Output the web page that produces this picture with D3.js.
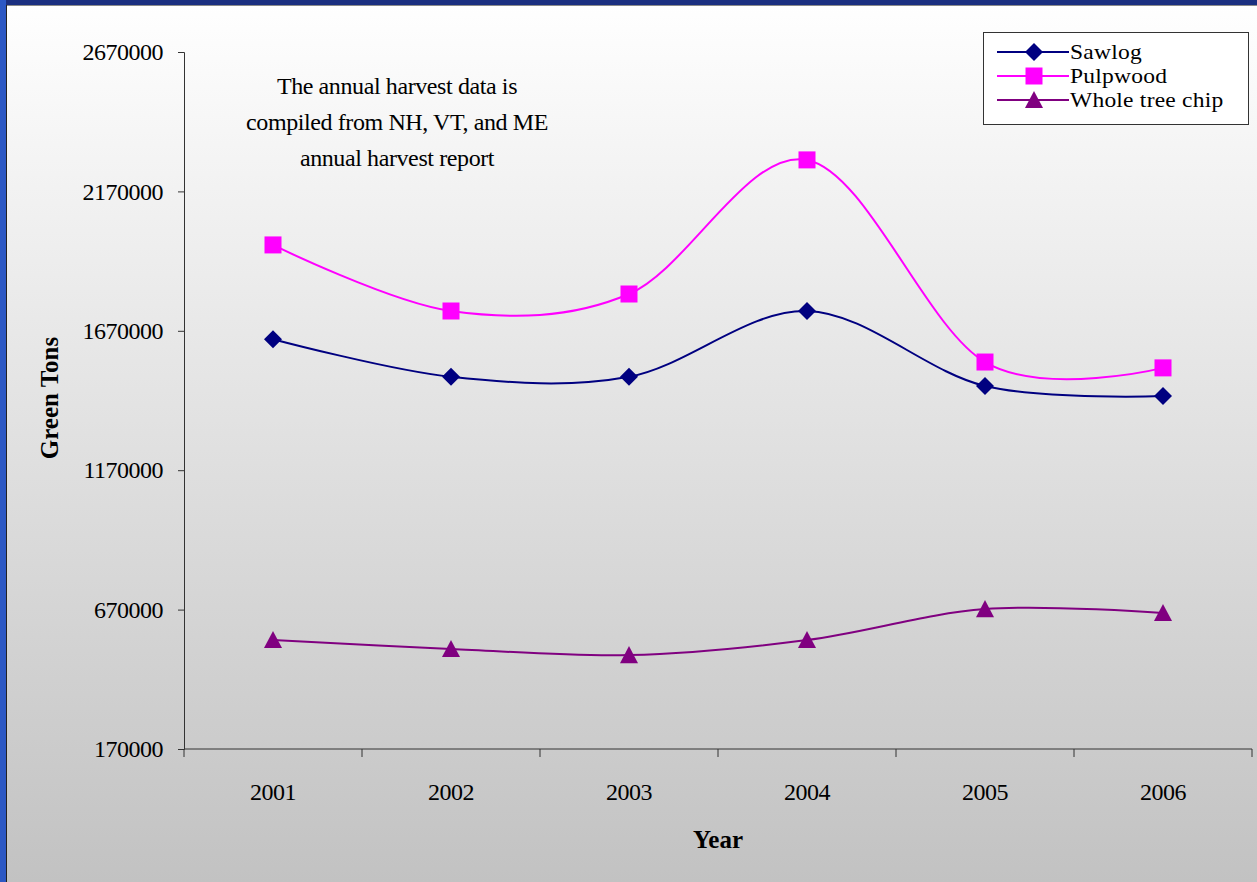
<!DOCTYPE html>
<html>
<head>
<meta charset="utf-8">
<script src="https://cdn.jsdelivr.net/npm/d3@7/dist/d3.min.js"></script>
<style>
  html, body { margin: 0; padding: 0; background: #fff; }
  svg { display: block; }
  text { font-family: "Liberation Serif", "Times New Roman", serif; fill: #000; }
</style>
</head>
<body>
<svg id="chart" width="1257" height="882"></svg>
<script>
// Annual harvest, green tons, 2001-2006
const years = ["2001", "2002", "2003", "2004", "2005", "2006"];
const sawlog = [1640000, 1505000, 1505000, 1741000, 1472000, 1436000];
const pulpwood = [1978000, 1741000, 1802000, 2283000, 1558000, 1537000];
const wholeTreeChip = [561000, 529000, 507000, 561000, 672000, 658000];
const yTicks = [170000, 670000, 1170000, 1670000, 2170000, 2670000];
const seriesNames = ["Sawlog", "Pulpwood", "Whole tree chip"];
const seriesColors = ["#000080", "#ff00ff", "#800080"];
const noteLines = ["The annual harvest data is", "compiled from NH, VT, and ME", "annual harvest report"];

const W = 1257, H = 882;
const svg = d3.select("#chart");

// background gradient and frame
const defs = svg.append("defs");
const bg = defs.append("linearGradient").attr("id", "bg").attr("x1", 0).attr("y1", 0).attr("x2", 0).attr("y2", 1);
bg.append("stop").attr("offset", "0%").attr("stop-color", "#ffffff");
bg.append("stop").attr("offset", "100%").attr("stop-color", "#c2c2c2");
svg.append("rect").attr("width", W).attr("height", H).attr("fill", "url(#bg)");
svg.append("rect").attr("x", 0).attr("y", 0).attr("width", W).attr("height", 5).attr("fill", "#1b2f80");
svg.append("rect").attr("x", 0).attr("y", 0).attr("width", 6).attr("height", H).attr("fill", "#2c58c4");
svg.append("line").attr("x1", 6).attr("x2", W).attr("y1", 5.5).attr("y2", 5.5).attr("stroke", "#8a8a8a").attr("stroke-width", 1);
svg.append("line").attr("x1", 6.5).attr("x2", 6.5).attr("y1", 5).attr("y2", H).attr("stroke", "#222").attr("stroke-width", 1);

const plot = { left: 184, right: 1252, top: 52, bottom: 749 };

const x = d3.scaleBand().domain(years).range([plot.left, plot.right]);
const y = d3.scaleLinear().domain([170000, 2670000]).range([plot.bottom, plot.top]);

// y axis
const yAxis = svg.append("g")
  .attr("transform", `translate(${plot.left},0)`)
  .call(d3.axisLeft(y).tickValues(yTicks).tickFormat(d3.format("d")).tickSize(6).tickPadding(15));
yAxis.select(".domain").attr("stroke", "#333");
yAxis.selectAll(".tick line").attr("stroke", "#333");
yAxis.selectAll(".tick text").style("font-size", "24px").style("letter-spacing", "-0.5px").attr("fill", "#000");

// x axis: ticks at category boundaries
const xg = svg.append("g").attr("transform", `translate(0,${plot.bottom})`);
xg.append("line").attr("x1", plot.left).attr("x2", plot.right).attr("stroke", "#333");
const bounds = years.map(d => x(d)).concat([x(years[years.length - 1]) + x.bandwidth()]);
xg.selectAll("line.tk").data(bounds).join("line").attr("class", "tk")
  .attr("x1", d => d).attr("x2", d => d).attr("y1", 0).attr("y2", 8).attr("stroke", "#333");
xg.selectAll("text").data(years).join("text")
  .attr("x", d => x(d) + x.bandwidth() / 2).attr("y", 51)
  .attr("text-anchor", "middle").style("font-size", "24px").style("letter-spacing", "-0.5px").text(d => d);

// axis titles
svg.append("text").attr("x", 718).attr("y", 848).attr("text-anchor", "middle")
  .style("font-size", "25px").style("font-weight", "bold").text("Year");
svg.append("text").attr("transform", "translate(58,398) rotate(-90)").attr("text-anchor", "middle")
  .style("font-size", "25px").style("font-weight", "bold").text("Green Tons");

// marker shapes: diamond (rotated square), square, triangle
const diamond = { draw(ctx, s) { const r = s; ctx.moveTo(0, -r); ctx.lineTo(r, 0); ctx.lineTo(0, r); ctx.lineTo(-r, 0); ctx.closePath(); } };
const square = { draw(ctx, s) { const r = s; ctx.rect(-r, -r, 2 * r, 2 * r); } };
const triangle = { draw(ctx, s) { const r = s; ctx.moveTo(0, -r); ctx.lineTo(r, r * 0.9); ctx.lineTo(-r, r * 0.9); ctx.closePath(); } };
const seriesSymbols = [diamond, square, triangle];
const symbolRadius = [9, 8.5, 9];

// series
const allSeries = [sawlog, pulpwood, wholeTreeChip];
const cx = d => x(d) + x.bandwidth() / 2;
const line = d3.line().x(d => cx(d[0])).y(d => y(d[1])).curve(d3.curveCatmullRom.alpha(0));

allSeries.forEach((vals, i) => {
  const pts = years.map((yr, j) => [yr, vals[j]]);
  svg.append("path").datum(pts).attr("d", line)
    .attr("fill", "none").attr("stroke", seriesColors[i]).attr("stroke-width", 2);
  svg.selectAll(null).data(pts).join("path")
    .attr("transform", d => `translate(${cx(d[0])},${y(d[1])})`)
    .attr("d", d3.symbol().type(seriesSymbols[i]).size(symbolRadius[i]))
    .attr("fill", seriesColors[i]);
});

// legend
const lg = svg.append("g").attr("transform", "translate(983,32)");
lg.append("rect").attr("x", 0.5).attr("y", 0.5).attr("width", 265).attr("height", 92)
  .attr("fill", "#fff").attr("stroke", "#333").attr("stroke-width", 1);
seriesNames.forEach((name, i) => {
  const yy = 20 + i * 24;
  lg.append("line").attr("x1", 14).attr("x2", 86).attr("y1", yy).attr("y2", yy)
    .attr("stroke", seriesColors[i]).attr("stroke-width", 2);
  lg.append("path").attr("transform", `translate(51,${yy})`)
    .attr("d", d3.symbol().type(seriesSymbols[i]).size(symbolRadius[i]))
    .attr("fill", seriesColors[i]);
  lg.append("text").attr("transform", `translate(87,${yy + 7}) scale(1.12,1)`)
    .style("font-size", "21px").style("letter-spacing", "0.2px").text(name);
});

// annotation
const note = svg.append("text").attr("text-anchor", "middle").style("font-size", "24px").style("letter-spacing", "-0.4px");
noteLines.forEach((t, i) => {
  note.append("tspan").attr("x", 397).attr("y", 94 + i * 36).text(t);
});
</script>
</body>
</html>
